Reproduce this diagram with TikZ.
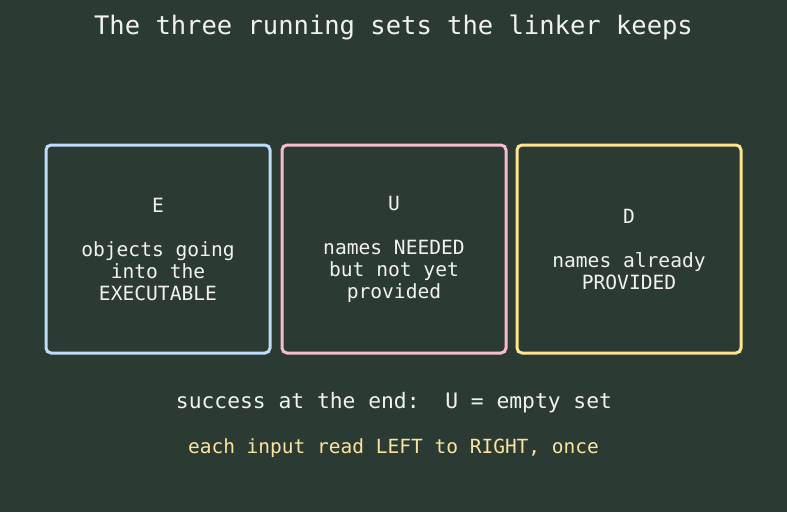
\documentclass[tikz,border=0pt]{standalone}
\usepackage{fontspec}
\setmonofont{DejaVu Sans Mono}
\definecolor{bg}{HTML}{2B3B34}
\definecolor{txt}{HTML}{F2F2EC}
\definecolor{cblue}{HTML}{BBDEFB}
\definecolor{cpink}{HTML}{F8BBD0}
\definecolor{cyel}{HTML}{FFE38F}
\definecolor{ytxt}{HTML}{FBE3A0}
\tikzset{
  setbox/.style={draw=#1, line width=3pt, rounded corners=5pt, fill=bg,
    minimum width=224pt, minimum height=208pt, inner sep=0pt,
    text=txt, align=center, font=\ttfamily\fontsize{19.6}{22}\selectfont},
  titletext/.style={text=txt, font=\ttfamily\fontsize{25.5}{30}\selectfont, inner sep=0pt},
  notetext/.style={text=txt, font=\ttfamily\fontsize{21.3}{25}\selectfont, inner sep=0pt},
  ynotetext/.style={text=ytxt, font=\ttfamily\fontsize{19.5}{23}\selectfont, inner sep=0pt}
}
\begin{document}
\begin{tikzpicture}[x=1pt,y=-1pt]
\fill[bg] (0,0) rectangle (787,512);
\useasboundingbox (0,0) rectangle (787,512);
\node[titletext] (title) at (393.5,27) {The three running sets the linker keeps};
\node[setbox=cblue] (E) at (158,249) {E\\[22pt]objects going\\into the\\EXECUTABLE};
\node[setbox=cpink] (U) at (394,249) {U\\[22pt]names NEEDED\\but not yet\\provided};
\node[setbox=cyel] (D) at (629,249) {D\\[22pt]names already\\PROVIDED};
\node[notetext] (succ) at (394,403) {success at the end:\ \ U = empty set};
\node[ynotetext] (each) at (393.5,448) {each input read LEFT to RIGHT, once};
\end{tikzpicture}
\end{document}
